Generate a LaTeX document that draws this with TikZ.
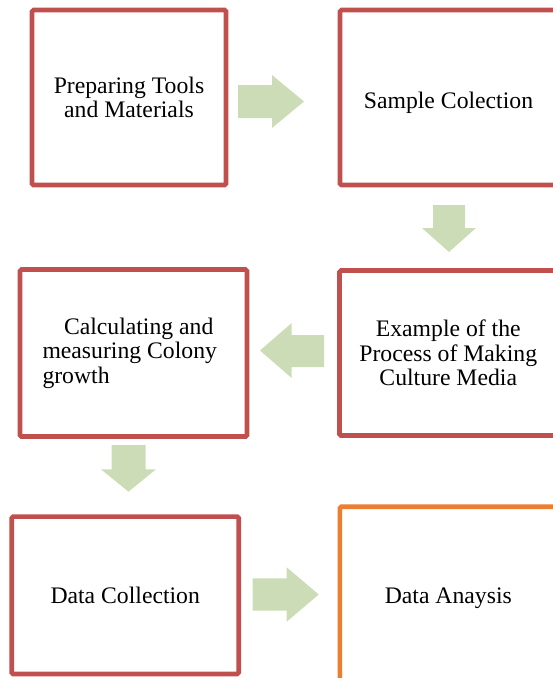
\documentclass[tikz,border=0pt]{standalone}
\usepackage{fontspec}
\setmainfont{Liberation Serif}
\definecolor{boxred}{RGB}{192,80,77}
\definecolor{boxorange}{RGB}{237,125,49}
\definecolor{arrowgreen}{RGB}{204,220,182}
\begin{document}
\begin{tikzpicture}[x=1pt,y=-1pt,
  stepbox/.style={draw=boxred,line width=4.6pt,rounded corners=1.5pt,fill=white,
    inner sep=0pt,font=\fontsize{23.7}{24.5}\selectfont,align=center,text depth=0pt},
  blockarrow/.style={fill=arrowgreen,draw=none}]
\useasboundingbox (0,0) rectangle (553,678);
\clip (0,0) rectangle (553,678);
\node[stepbox,minimum width=194pt,minimum height=175pt] (prep) at (129,97.5) {Preparing Tools\\and Materials};
\node[stepbox,minimum width=217pt,minimum height=175pt,text height=21pt] (sample) at (448.5,97.5) {Sample Colection};
\node[stepbox,minimum width=217.5pt,minimum height=165pt] (media) at (448.25,353) {Example of the\\Process of Making\\Culture Media};
\node[stepbox,minimum width=227pt,minimum height=167pt,text width=182pt,align=flush left,text depth={}] (calc) at (133.5,353) {\hspace*{21.5pt}Calculating and\\measuring Colony\\growth};
\node[stepbox,minimum width=227pt,minimum height=157.3pt] (collect) at (125.2,595.3) {Data Collection};
\node[stepbox,draw=boxorange,minimum width=217pt,minimum height=178.6pt] (analysis) at (448.3,596) {Data Anaysis};
% block arrows
\fill[blockarrow] (238,85) -- (272,85) -- (272,75) -- (304,101.5) -- (272,128) -- (272,118) -- (238,118) -- cycle;
\fill[blockarrow] (433,205) -- (465,205) -- (465,228) -- (476,228) -- (449,252) -- (422,228) -- (433,228) -- cycle;
\fill[blockarrow] (324,335) -- (291.7,335) -- (291.7,323) -- (260,350.5) -- (291.7,378) -- (291.7,367) -- (324,367) -- cycle;
\fill[blockarrow] (111.7,445) -- (145.7,445) -- (145.7,469.3) -- (156,469.3) -- (128.5,491.7) -- (101,469.3) -- (111.7,469.3) -- cycle;
\fill[blockarrow] (252.7,578.3) -- (286.7,578.3) -- (286.7,567.3) -- (318.7,594.5) -- (286.7,621.7) -- (286.7,610.7) -- (252.7,610.7) -- cycle;
\end{tikzpicture}
\end{document}
